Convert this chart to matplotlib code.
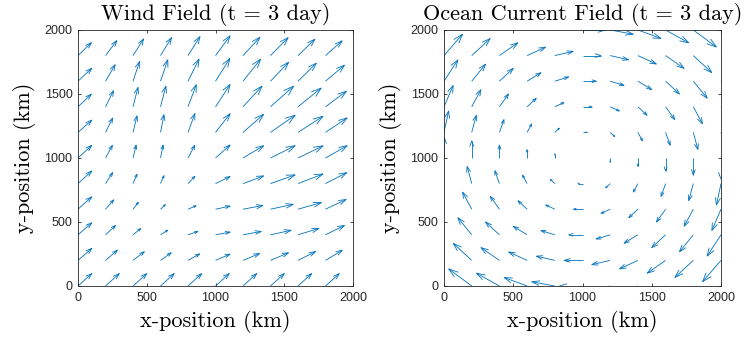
import numpy as np
import matplotlib.pyplot as plt
from matplotlib.collections import LineCollection

# grid points (km)
wind_x = [0, 200, 400, 600, 800, 1000, 1200, 1400, 1600, 1800]
wind_y = [0, 200, 400, 600, 800, 1000, 1200, 1400, 1600, 1800]

# wind arrows (km of arrow length), rows = y from 0 to 1800, cols = x from 0 to 1800
wind_u = [
    [100, 100, 100, 100, 100, 100, 100, 100, 100, 100],
    [100, 87, 82, 78, 85, 106, 121, 131, 128, 122],
    [100, 73, 56, 53, 72, 106, 132, 150, 152, 138],
    [100, 60, 39, 35, 59, 106, 145, 165, 170, 150],
    [100, 52, 29, 25, 50, 106, 150, 179, 182, 155],
    [100, 50, 23, 19, 49, 106, 150, 179, 182, 157],
    [100, 52, 29, 25, 50, 106, 150, 179, 182, 157],
    [97, 58, 36, 39, 60, 106, 138, 168, 168, 152],
    [100, 70, 48, 53, 80, 104, 128, 132, 133, 138],
    [97, 82, 77, 80, 87, 106, 123, 128, 123, 121],
]
wind_v = [
    [97, 97, 97, 97, 97, 97, 97, 97, 97, 97],
    [94, 80, 68, 60, 51, 49, 54, 60, 69, 80],
    [94, 73, 49, 36, 26, 21, 26, 35, 50, 73],
    [97, 73, 54, 36, 27, 24, 29, 38, 52, 76],
    [99, 86, 73, 62, 57, 55, 60, 68, 75, 86],
    [99, 99, 101, 101, 99, 101, 96, 96, 95, 96],
    [96, 112, 129, 138, 147, 146, 141, 134, 126, 113],
    [99, 125, 151, 161, 172, 174, 161, 161, 146, 122],
    [101, 128, 154, 167, 172, 177, 172, 148, 141, 125],
    [101, 117, 130, 140, 148, 154, 143, 140, 128, 115],
]

ocean_x = [0, 200, 400, 600, 800, 1000, 1200, 1400, 1600, 1800, 2000]
ocean_y = [0, 200, 400, 600, 800, 1000, 1200, 1400, 1600, 1800, 2000]
# current: east component is the same along each row, north component along each column
ocean_u_rows = [-166, -133, -100, -66, -33, 0, 33, 66, 100, 133, 166]
ocean_v_cols = [166, 133, 100, 66, 33, 0, -33, -66, -100, -133, -166]

titles = ["Wind Field (t = 3 day)", "Ocean Current Field (t = 3 day)"]
ticks = [0, 500, 1000, 1500, 2000]

ARROW = "#0072BD"
TEXT = "#262626"


def draw_arrows(ax, xs, ys, u, v):
    # matlab-like quiver: shaft + open head, head size proportional to length
    X, Y = np.meshgrid(xs, ys)
    U = np.asarray(u, float).ravel()
    V = np.asarray(v, float).ravel()
    x0, y0 = X.ravel(), Y.ravel()
    x1, y1 = x0 + U, y0 + V
    a, b = 0.33, 0.33
    segs = []
    for i in range(len(x0)):
        segs.append([(x0[i], y0[i]), (x1[i], y1[i])])
        segs.append([
            (x1[i] - a * (U[i] + b * V[i]), y1[i] - a * (V[i] - b * U[i])),
            (x1[i], y1[i]),
            (x1[i] - a * (U[i] - b * V[i]), y1[i] - a * (V[i] + b * U[i])),
        ])
    ax.add_collection(LineCollection(segs, colors=ARROW, linewidths=0.6))


def style_axes(ax, title):
    ax.set_xlim(0, 2000)
    ax.set_ylim(0, 2000)
    ax.set_xticks(ticks)
    ax.set_yticks(ticks)
    ax.tick_params(direction="in", length=2, width=0.6, top=True, right=True,
                   colors=TEXT, labelsize=9, pad=4)
    for lab in ax.get_xticklabels() + ax.get_yticklabels():
        lab.set_fontfamily("Liberation Sans")
    for sp in ax.spines.values():
        sp.set_color(TEXT)
        sp.set_linewidth(0.6)
    ax.set_title(title, family="cmr10", fontsize=16, pad=7)
    ax.set_xlabel("x-position (km)", family="cmr10", fontsize=16, labelpad=5)
    ax.set_ylabel("y-position (km)", family="cmr10", fontsize=16, labelpad=6)


fig = plt.figure(figsize=(7.46, 3.43), dpi=100)
ax1 = fig.add_axes([0.1046, 0.1662, 0.3686, 0.7464])
ax2 = fig.add_axes([0.5952, 0.1662, 0.3713, 0.7464])

draw_arrows(ax1, wind_x, wind_y, wind_u, wind_v)
style_axes(ax1, titles[0])

U_o = np.repeat(np.array(ocean_u_rows)[:, None], len(ocean_x), axis=1)
V_o = np.repeat(np.array(ocean_v_cols)[None, :], len(ocean_y), axis=0)
draw_arrows(ax2, ocean_x, ocean_y, U_o, V_o)
style_axes(ax2, titles[1])

fig.savefig("out.png", dpi=100)
